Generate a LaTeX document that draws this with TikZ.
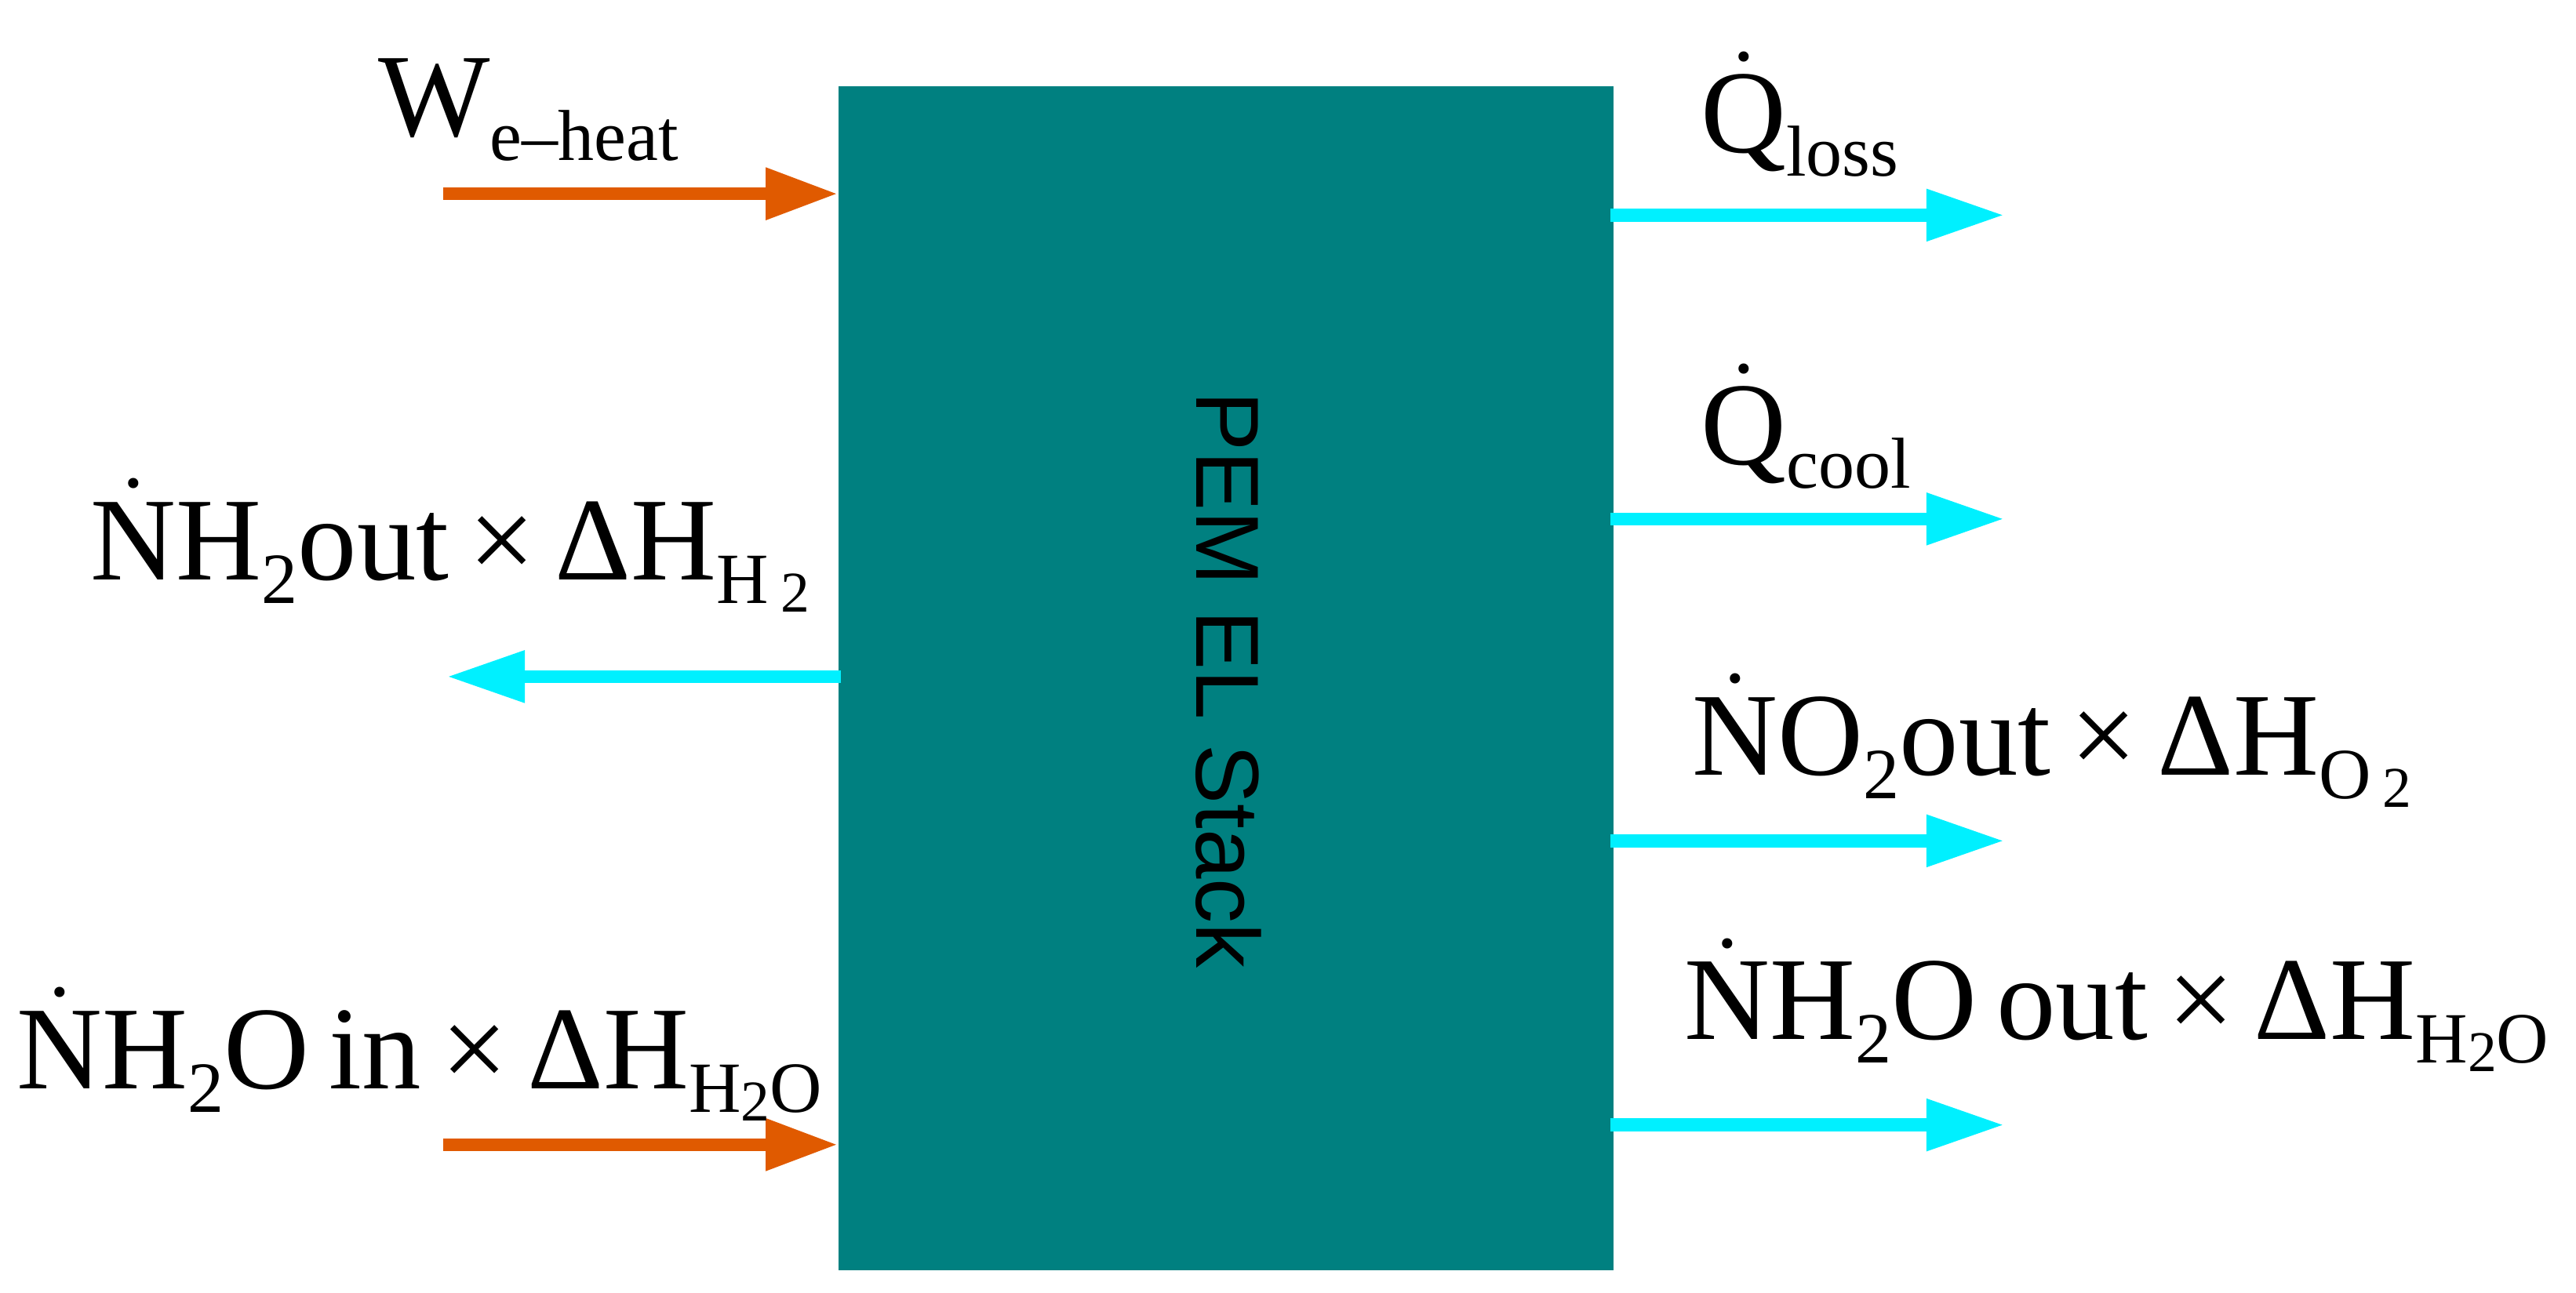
\documentclass[tikz,border=0pt]{standalone}
\usepackage{fontspec}
\setmainfont{Liberation Serif}
\newfontfamily\sansf{Liberation Sans}
\usetikzlibrary{arrows.meta}
\definecolor{teal1}{HTML}{008080}
\definecolor{orng}{HTML}{E05A00}
\definecolor{cyn}{HTML}{00F0FF}
\newcommand\dt[1]{\leavevmode\ooalign{#1\cr\hidewidth\raisebox{0.78em}{\fontsize{30}{30}\selectfont.}\hidewidth\cr}}
\newcommand\sub[1]{\raisebox{-0.2em}{\fontsize{25}{28}\selectfont #1}}
\newcommand\ssub[1]{\raisebox{-0.12em}{\fontsize{20}{22}\selectfont #1}}
\begin{document}
\begin{tikzpicture}[x=0.02cm,y=-0.02cm,
  lbl/.style={anchor=base west,inner sep=0,font=\fontsize{41}{48}\selectfont},
  oarr/.style={orng,line width=4.5pt,-{Triangle[length=25pt,width=17pt]}},
  carr/.style={cyn,line width=4.5pt,-{Triangle[length=27pt,width=17pt]}}]
\useasboundingbox (0,0) rectangle (1568,787);
\node[fill=teal1,draw=none,minimum width=472*0.02cm,minimum height=721*0.02cm,inner sep=0,anchor=north west] (stack) at (510,52) {};
\node[rotate=-90,font=\sansf\fontsize{31}{36}\selectfont] (t) at (748,414) {PEM EL Stack};
\coordinate (w0) at (270,118); \coordinate (w1) at (510,118);
\coordinate (n0) at (270,697); \coordinate (n1) at (510,697);
\coordinate (h0) at (512,412); \coordinate (h1) at (272,412);
\draw[oarr] (w0) -- (w1);
\draw[oarr] (n0) -- (n1);
\draw[carr] (h0) -- (h1);
\foreach \y/\n in {131/a,316/b,512/c,685/d}{
  \coordinate (s\n) at (980,\y); \coordinate (e\n) at (1220,\y);
  \draw[carr] (s\n) -- (e\n);}
\node[lbl] (lw) at (230,83) {W\sub{e--heat}};
\node[lbl] (lq1) at (1035,93) {\dt{Q}\sub{loss}};
\node[lbl] (lq2) at (1035,283) {\dt{Q}\sub{cool}};
\node[lbl] (lh2) at (55,353) {\dt{N}H\sub{2}out\,×\,ΔH\sub{H\,\ssub{2}}};
\node[lbl] (lo2) at (1030,472) {\dt{N}O\sub{2}out\,×\,ΔH\sub{O\,\ssub{2}}};
\node[lbl] (lwo) at (1025,633) {\dt{N}H\sub{2}O\,out\,×\,ΔH\sub{H\ssub{2}O}};
\node[lbl] (lwi) at (10,663) {\dt{N}H\sub{2}O\,in\,×\,ΔH\sub{H\ssub{2}O}};
\end{tikzpicture}
\end{document}
